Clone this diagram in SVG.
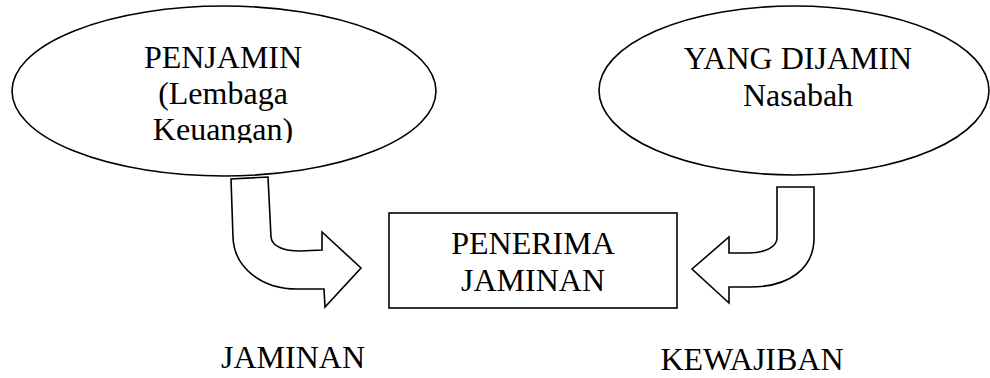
<svg xmlns="http://www.w3.org/2000/svg" width="990" height="378" viewBox="0 0 990 378">
  <style>
    .shape { fill: #ffffff; stroke: #000000; stroke-width: 1.6; stroke-linejoin: miter; }
    .label { font-family: "Liberation Serif", "Times New Roman", serif; font-size: 32px; fill: #000000; text-anchor: middle; }
  </style>
  <defs>
    <!-- text frame of the left ellipse cuts off the last line's descenders -->
    <clipPath id="penjamin-frame">
      <rect x="60" y="20" width="330" height="123"/>
    </clipPath>
  </defs>
  <rect width="990" height="378" fill="#ffffff"/>

  <g id="penjamin">
    <ellipse class="shape" cx="224" cy="91" rx="212" ry="85"/>
    <g clip-path="url(#penjamin-frame)">
      <text class="label" x="223" y="68">PENJAMIN</text>
      <text class="label" x="223" y="104">(Lembaga</text>
      <text class="label" x="223" y="140">Keuangan)</text>
    </g>
  </g>

  <g id="yang-dijamin">
    <ellipse class="shape" cx="794" cy="90.5" rx="195" ry="84.5"/>
    <text class="label" x="798" y="69">YANG DIJAMIN</text>
    <text class="label" x="798" y="106">Nasabah</text>
  </g>

  <g id="penerima-jaminan">
    <rect class="shape" x="389" y="213" width="288" height="95"/>
    <text class="label" x="533" y="254">PENERIMA</text>
    <text class="label" x="533" y="291">JAMINAN</text>
  </g>

  <g id="connectors">
    <!-- bent block arrow from PENJAMIN to the receiver -->
    <path class="shape" d="M231,179 L268,177 L271,237 C272,247 285,251 300,251 L322,250 L322,232 L361,268 L325,307 L324,289 L297,289 C262,289 234,268 233,237 Z"/>
    <!-- bent block arrow from YANG DIJAMIN to the receiver -->
    <path class="shape" d="M777,187 L814,187 L814,238 C814,268 790,287 750,287 L729,287 L729,303 L692,269 L729,237 L729,253 L748,253 C765,253 777,247 777,238 Z"/>
  </g>

  <g id="arrow-labels">
    <text class="label" x="293" y="368">JAMINAN</text>
    <text class="label" x="752" y="370">KEWAJIBAN</text>
  </g>
</svg>
